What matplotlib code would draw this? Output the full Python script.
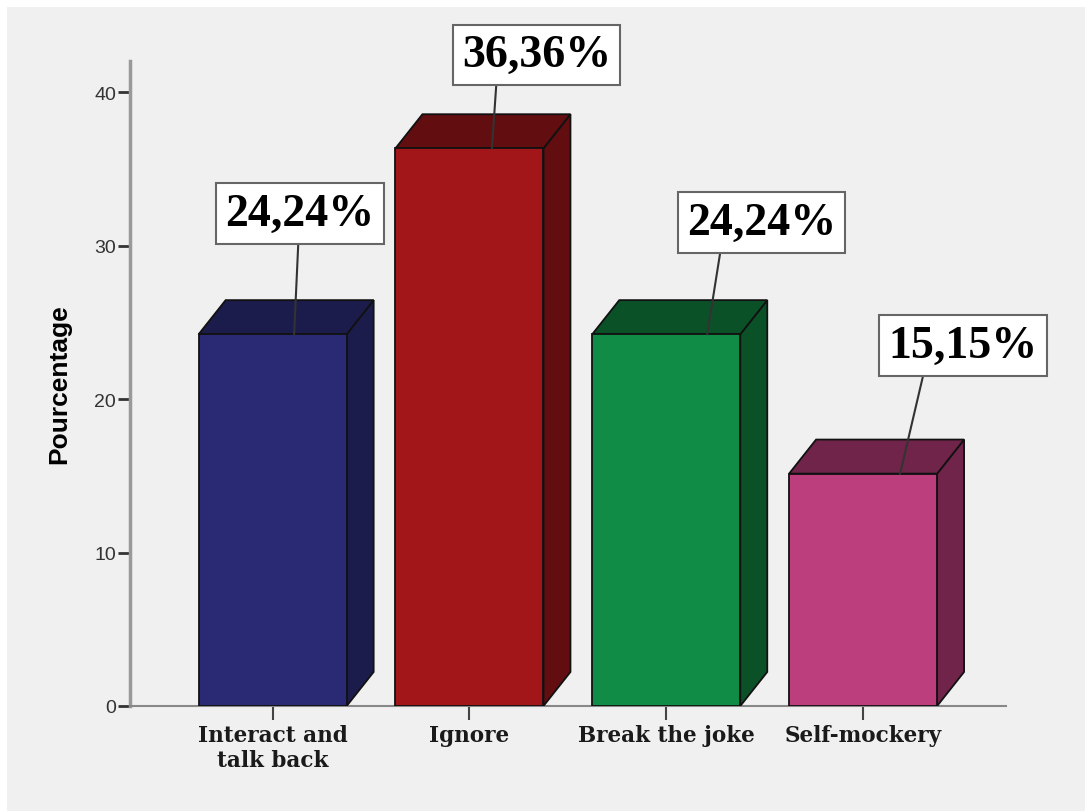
import matplotlib
matplotlib.use("Agg")
import matplotlib.pyplot as plt
from matplotlib.patches import Polygon, Rectangle

# ---- data ----
categories = ["Interact and\ntalk back", "Ignore", "Break the joke", "Self-mockery"]
percentages = [24.24, 36.36, 24.24, 15.15]
labels = ["24,24%", "36,36%", "24,24%", "15,15%"]
front_colors = ["#292a73", "#a21619", "#118c47", "#bc3e7c"]
dark_colors = ["#1c1c4c", "#620d10", "#0b5128", "#71244a"]

# ---- layout (annotation placement relative to bar) ----
box_offsets = [(0.139, 7.86), (0.340, 6.08), (0.484, 7.28), (0.508, 8.35)]
line_top_dx = [0.130, 0.136, 0.274, 0.305]
line_bot_dx = [0.109, 0.114, 0.208, 0.188]

W, H = 1087, 812
fig = plt.figure(figsize=(W / 100, H / 100), dpi=100)
fig.patch.set_facecolor("white")
fig.add_artist(Rectangle((7 / W, 0), (1085 - 7) / W, (H - 8) / H,
                         transform=fig.transFigure, facecolor="#f0f0f0",
                         edgecolor="none", zorder=0))

ax = fig.add_axes([130 / W, (H - 707) / H, 876 / W, 645 / H])
ax.set_facecolor("none")
ax.set_xlim(-0.725, 3.726)
ax.set_ylim(0, 42.05)

bw = 0.752
ddx = 0.137
ddy = 2.22

for i, v in enumerate(percentages):
    x0, x1 = i - bw / 2, i + bw / 2
    front = Rectangle((x0, 0), bw, v, facecolor=front_colors[i],
                      edgecolor="#111111", lw=1.3, zorder=3)
    top = Polygon([(x0, v), (x1, v), (x1 + ddx, v + ddy), (x0 + ddx, v + ddy)],
                  closed=True, facecolor=dark_colors[i], edgecolor="#111111",
                  lw=1.3, zorder=3)
    side = Polygon([(x1, 0), (x1 + ddx, ddy), (x1 + ddx, v + ddy), (x1, v)],
                   closed=True, facecolor=dark_colors[i], edgecolor="#111111",
                   lw=1.3, zorder=3)
    ax.add_patch(side)
    ax.add_patch(top)
    ax.add_patch(front)

    bx, by = i + box_offsets[i][0], v + box_offsets[i][1]
    ax.plot([i + line_top_dx[i], i + line_bot_dx[i]], [by - 1.95, v],
            color="#333333", lw=1.5, zorder=4, clip_on=False)
    ax.text(bx, by, labels[i], ha="center", va="center",
            fontsize=33, fontweight="bold", family="Liberation Serif",
            color="black", zorder=6, clip_on=False,
            bbox=dict(boxstyle="square,pad=0.2", facecolor="white",
                      edgecolor="#666666", lw=1.5))

ax.set_xticks(range(len(categories)))
ax.set_xticklabels(categories, family="DejaVu Serif", fontweight="bold",
                   fontsize=15.5, color="#1a1a1a")
ax.set_yticks([0, 10, 20, 30, 40])
ax.set_yticklabels(["0", "10", "20", "30", "40"], family="Liberation Sans",
                   fontsize=14, color="#333333")
ax.tick_params(axis="y", length=9, width=2, color="#333333", pad=1)
ax.tick_params(axis="x", length=10, width=1.5, color="#444444", pad=3)

for s in ["top", "right"]:
    ax.spines[s].set_visible(False)
ax.spines["left"].set_color("#999999")
ax.spines["left"].set_linewidth(2.5)
ax.spines["bottom"].set_color("#888888")
ax.spines["bottom"].set_linewidth(1.5)

ax.set_ylabel("Pourcentage", family="Liberation Sans", fontweight="bold",
              fontsize=19, color="black")
ax.yaxis.set_label_coords(-0.067, 0.5)

fig.savefig("out.png", dpi=100, facecolor=fig.get_facecolor())
